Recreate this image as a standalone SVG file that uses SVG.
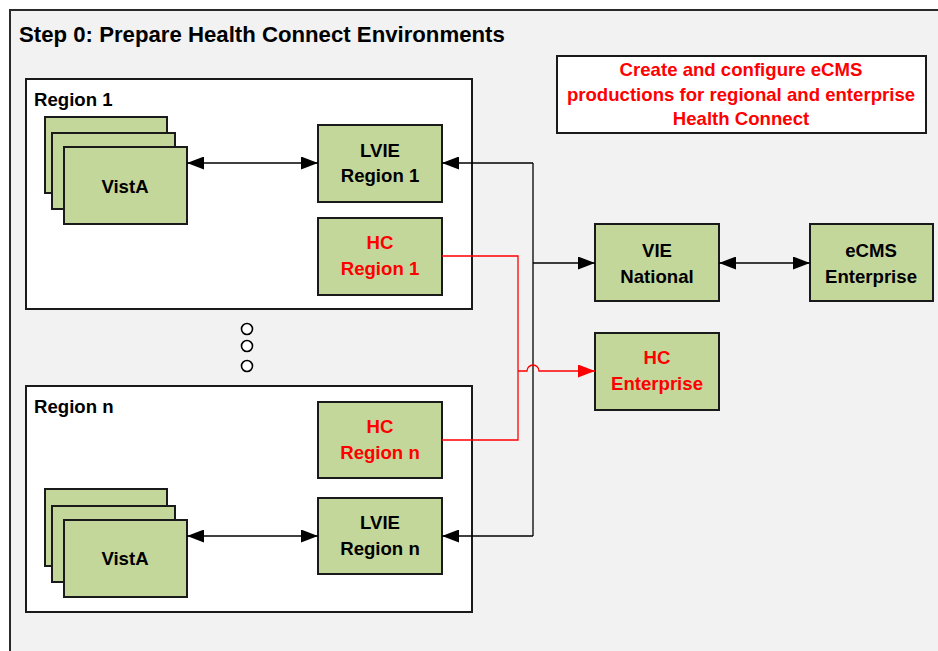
<svg xmlns="http://www.w3.org/2000/svg" width="938" height="651" viewBox="0 0 938 651">
<style>
  .t { font-family: "Liberation Sans", Arial, sans-serif; font-weight: bold; font-size: 18.6px; fill: #000; }
  .c { text-anchor: middle; }
  .red { fill: #ff0000; }
  .node { fill: #c4d79b; stroke: #1a1a1a; stroke-width: 2; }
  .region { fill: #ffffff; stroke: #1a1a1a; stroke-width: 2; }
  .conn { fill: none; stroke: #000; stroke-width: 1.3; }
  .rconn { fill: none; stroke: #ff0000; stroke-width: 1.3; }
</style>
<defs>
  <marker id="ah" markerUnits="userSpaceOnUse" markerWidth="17" markerHeight="13" refX="17" refY="6.5" orient="auto-start-reverse">
    <path d="M0,0 L17,6.5 L0,13 z" fill="#000"/>
  </marker>
  <marker id="ahr" markerUnits="userSpaceOnUse" markerWidth="17" markerHeight="13" refX="17" refY="6.5" orient="auto">
    <path d="M0,0 L17,6.5 L0,13 z" fill="#ff0000"/>
  </marker>
</defs>
<rect x="0" y="0" width="938" height="651" fill="#ffffff"/>
<rect id="frame" x="10" y="10" width="1000" height="1000" fill="#f2f2f2" stroke="#2a2a2a" stroke-width="2"/>
<text class="t" x="19" y="42" style="font-size:22.2px">Step 0: Prepare Health Connect Environments</text>

<g id="note">
  <rect x="557" y="56" width="369" height="77" fill="#ffffff" stroke="#1a1a1a" stroke-width="2"/>
  <text class="t c red" x="741" y="76">Create and configure eCMS</text>
  <text class="t c red" x="741" y="101">productions for regional and enterprise</text>
  <text class="t c red" x="741" y="125">Health Connect</text>
</g>

<g id="region1">
  <rect class="region" x="26" y="79" width="446" height="230"/>
  <text class="t" x="34" y="106">Region 1</text>
</g>
<g id="vista1">
  <rect class="node" x="45" y="117" width="122" height="76"/>
  <rect class="node" x="52" y="133" width="123" height="76"/>
  <rect class="node" x="64" y="147" width="123" height="77"/>
  <text class="t c" x="125" y="193">VistA</text>
</g>
<g id="lvie1">
  <rect class="node" x="318" y="125" width="124" height="77"/>
  <text class="t c" x="380" y="157">LVIE</text>
  <text class="t c" x="380" y="182">Region 1</text>
</g>
<g id="hc1">
  <rect class="node" x="318" y="218" width="124" height="77"/>
  <text class="t c red" x="380" y="249">HC</text>
  <text class="t c red" x="380" y="275">Region 1</text>
</g>

<g id="dots">
  <circle cx="247" cy="329" r="5.5" fill="#ffffff" stroke="#000" stroke-width="1.6"/>
  <circle cx="247" cy="346" r="5.5" fill="#ffffff" stroke="#000" stroke-width="1.6"/>
  <circle cx="247" cy="366" r="5.5" fill="#ffffff" stroke="#000" stroke-width="1.6"/>
</g>

<g id="regionn">
  <rect class="region" x="26" y="386" width="446" height="226"/>
  <text class="t" x="34" y="413">Region n</text>
</g>
<g id="hcn">
  <rect class="node" x="318" y="402" width="124" height="76"/>
  <text class="t c red" x="380" y="433">HC</text>
  <text class="t c red" x="380" y="459">Region n</text>
</g>
<g id="vistan">
  <rect class="node" x="45" y="489" width="122" height="77"/>
  <rect class="node" x="52" y="506" width="123" height="76"/>
  <rect class="node" x="64" y="520" width="123" height="77"/>
  <text class="t c" x="125" y="565">VistA</text>
</g>
<g id="lvien">
  <rect class="node" x="318" y="498" width="124" height="76"/>
  <text class="t c" x="380" y="529">LVIE</text>
  <text class="t c" x="380" y="555">Region n</text>
</g>

<g id="vie">
  <rect class="node" x="595" y="224" width="124" height="77"/>
  <text class="t c" x="657" y="257">VIE</text>
  <text class="t c" x="657" y="283">National</text>
</g>
<g id="ecms">
  <rect class="node" x="810" y="224" width="123" height="77"/>
  <text class="t c" x="871" y="257">eCMS</text>
  <text class="t c" x="871" y="283">Enterprise</text>
</g>
<g id="hcent">
  <rect class="node" x="595" y="333" width="124" height="77"/>
  <text class="t c red" x="657" y="364">HC</text>
  <text class="t c red" x="657" y="390">Enterprise</text>
</g>

<g id="connectors">
  <path class="conn" d="M187,163 H318" marker-start="url(#ah)" marker-end="url(#ah)"/>
  <path class="conn" d="M187,536 H318" marker-start="url(#ah)" marker-end="url(#ah)"/>
  <path class="conn" d="M533,163 V536"/>
  <path class="conn" d="M533,163 H442" marker-end="url(#ah)"/>
  <path class="conn" d="M533,536 H442" marker-end="url(#ah)"/>
  <path class="conn" d="M533,263 H595" marker-end="url(#ah)"/>
  <path class="conn" d="M719,263 H810" marker-start="url(#ah)" marker-end="url(#ah)"/>
  <path class="rconn" d="M442,256 H518 V440 H442"/>
  <path class="rconn" d="M518,371 H527 A6,6 0 0 1 539,371 H595" marker-end="url(#ahr)"/>
</g>
</svg>
